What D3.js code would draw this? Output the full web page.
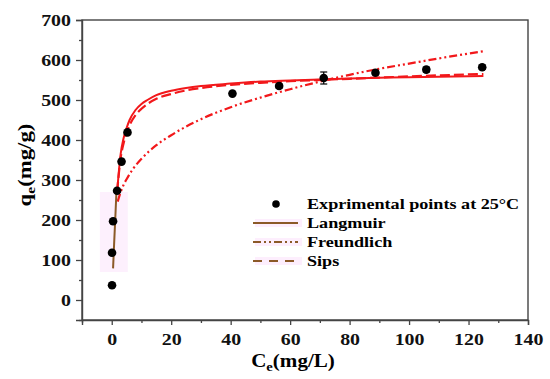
<!DOCTYPE html>
<html>
<head>
<meta charset="utf-8">
<script src="https://cdn.jsdelivr.net/npm/d3@7"></script>
<style>
  body { margin: 0; background: #fff; }
  text { font-family: "Liberation Serif", "Times New Roman", serif; font-weight: bold; }
</style>
</head>
<body>
<div id="chart"></div>
<script>
// experimental points (Ce, qe, error)
var expC   = [0.1, 0.1, 0.45, 1.8, 3.3, 5.3, 40.6, 56.3, 71.3, 88.7, 105.8, 124.6];
var expQ   = [37, 118, 197, 273, 346, 419, 516, 535, 555, 568, 576, 582];
var expErr = [0, 0, 0, 0, 0, 0, 0, 5, 15, 5, 6, 5];

// Langmuir fit (solid)
var langC = [1.8, 2.5, 3, 4, 5, 6, 8, 10, 12, 15, 20, 25, 30, 40, 50, 60, 80, 100, 125];
var langQ = [270, 330, 365, 405, 430, 450, 475, 490, 500, 512, 523, 530, 535, 541, 546, 549, 554, 557, 560];

// Freundlich fit (dash-dot-dot)
var freuC = [2, 3, 4, 5, 7, 10, 15, 20, 30, 40, 50, 60, 70, 80, 90, 100, 110, 125];
var freuQ = [246, 270, 288, 302, 326, 353, 387, 412, 452, 482, 506, 527, 546, 563, 578, 591, 604, 622];

// Sips fit (dashed)
var sipsC = [1.8, 3, 4, 5, 6, 8, 10, 12, 15, 20, 25, 30, 40, 50, 60, 80, 100, 125];
var sipsQ = [270, 355, 392, 418, 437, 462, 478, 490, 503, 515, 524, 530, 538, 543, 547, 553, 559, 565];

// short brown line at low concentration
var lowC = [0.45, 0.8, 1.2, 1.6];
var lowQ = [79, 140, 205, 273];

var xTicks = [0, 20, 40, 60, 80, 100, 120, 140];
var yTicks = [0, 100, 200, 300, 400, 500, 600, 700];
var legendNames = ["Langmuir", "Freundlich", "Sips"];

var w = 550, h = 379;
var pLeft = 82, pRight = 528, pTop = 20, pBottom = 320;
var sx = 1.17; // texts in the picture are a little wide

var x = d3.scaleLinear().domain([-10, 140]).range([pLeft, pRight]);
var y = d3.scaleLinear().domain([-50, 700]).range([pBottom, pTop]);

var svg = d3.select("#chart").append("svg")
  .attr("width", w)
  .attr("height", h);

var axisColor = "#444";
var red = "#f2181b";
var brown = "#8c5a28";

// widen a text around its own x
function widen(sel) {
  sel.each(function() {
    var t = d3.select(this);
    var tx = +t.attr("x") || 0;
    t.attr("transform", "translate(" + tx + ",0) scale(" + sx + ",1) translate(" + (-tx) + ",0)");
  });
}

// pink highlight behind the low concentration line
svg.append("rect")
  .attr("x", x(-4)).attr("y", y(270))
  .attr("width", x(5.4) - x(-4)).attr("height", y(70) - y(270))
  .attr("fill", "#fdf0fd");

// frame
svg.append("rect")
  .attr("x", pLeft).attr("y", pTop)
  .attr("width", pRight - pLeft).attr("height", pBottom - pTop)
  .attr("fill", "none").attr("stroke", axisColor).attr("stroke-width", 1.4);

// x axis
svg.append("g")
  .attr("transform", "translate(0," + pBottom + ")")
  .call(d3.axisBottom(x).tickValues(xTicks).tickSize(5).tickPadding(8));
svg.append("g")
  .attr("transform", "translate(0," + pBottom + ")")
  .call(d3.axisBottom(x).tickValues(d3.range(-10, 141, 20)).tickSize(3).tickFormat(""))
  .select(".domain").remove();

// y axis
svg.append("g")
  .attr("transform", "translate(" + pLeft + ",0)")
  .call(d3.axisLeft(y).tickValues(yTicks).tickSize(6).tickPadding(5));
svg.append("g")
  .attr("transform", "translate(" + pLeft + ",0)")
  .call(d3.axisLeft(y).tickValues(d3.range(-50, 701, 100)).tickSize(3).tickFormat(""))
  .select(".domain").remove();

svg.selectAll(".domain").attr("stroke", axisColor).attr("stroke-width", 1.4);
svg.selectAll(".tick line").attr("stroke", axisColor).attr("stroke-width", 1.3);
svg.selectAll(".tick text")
  .attr("font-family", "Liberation Serif")
  .attr("font-weight", "bold")
  .attr("font-size", "17px")
  .attr("fill", "#111")
  .call(widen);

// axis titles
var xt = svg.append("text")
  .attr("x", 293).attr("y", 367)
  .attr("text-anchor", "middle")
  .attr("font-size", "18px");
xt.append("tspan").text("C");
xt.append("tspan").attr("font-size", "12.5px").attr("dy", 4).text("e");
xt.append("tspan").attr("dy", -4).text("(mg/L)");
widen(xt);

var yt = svg.append("text")
  .attr("transform", "translate(31,165) rotate(-90) scale(1.2,1)")
  .attr("text-anchor", "middle")
  .attr("font-size", "19px");
yt.append("tspan").text("q");
yt.append("tspan").attr("font-size", "13px").attr("dy", 4).text("e");
yt.append("tspan").attr("dy", -4).text("(mg/g)");

// curves
var line = d3.line()
  .x(function(d) { return x(d[0]); })
  .y(function(d) { return y(d[1]); })
  .curve(d3.curveMonotoneX);

svg.append("path")
  .datum(d3.zip(freuC, freuQ))
  .attr("d", line)
  .attr("fill", "none").attr("stroke", red).attr("stroke-width", 2.2)
  .attr("stroke-dasharray", "8,3,2,3,2,3");

svg.append("path")
  .datum(d3.zip(sipsC, sipsQ))
  .attr("d", line)
  .attr("fill", "none").attr("stroke", red).attr("stroke-width", 2.2)
  .attr("stroke-dasharray", "10,4");

svg.append("path")
  .datum(d3.zip(langC, langQ))
  .attr("d", line)
  .attr("fill", "none").attr("stroke", red).attr("stroke-width", 2);

svg.append("path")
  .datum(d3.zip(lowC, lowQ))
  .attr("d", d3.line()
    .x(function(d) { return x(d[0]); })
    .y(function(d) { return y(d[1]); }))
  .attr("fill", "none").attr("stroke", brown).attr("stroke-width", 2);

// error bars
var pts = d3.zip(expC, expQ, expErr);
var eb = svg.selectAll(".err")
  .data(pts.filter(function(d) { return d[2] > 0; }))
  .enter().append("g").attr("class", "err");
eb.append("line")
  .attr("x1", function(d) { return x(d[0]); })
  .attr("x2", function(d) { return x(d[0]); })
  .attr("y1", function(d) { return y(d[1] - d[2]); })
  .attr("y2", function(d) { return y(d[1] + d[2]); })
  .attr("stroke", "#000").attr("stroke-width", 1.2);
[-1, 1].forEach(function(s) {
  eb.append("line")
    .attr("x1", function(d) { return x(d[0]) - 3.5; })
    .attr("x2", function(d) { return x(d[0]) + 3.5; })
    .attr("y1", function(d) { return y(d[1] + s * d[2]); })
    .attr("y2", function(d) { return y(d[1] + s * d[2]); })
    .attr("stroke", "#000").attr("stroke-width", 1.2);
});

// points
svg.selectAll(".pt")
  .data(pts)
  .enter().append("circle")
  .attr("class", "pt")
  .attr("cx", function(d) { return x(d[0]); })
  .attr("cy", function(d) { return y(d[1]); })
  .attr("r", 4.3)
  .attr("fill", "#000");

// legend
var legend = svg.append("g");
legend.append("circle").attr("cx", 276).attr("cy", 204).attr("r", 3.8).attr("fill", "#000");
legend.append("text").attr("x", 307).attr("y", 209)
  .attr("font-size", "15.5px").text("Exprimental points at 25\u00B0C")
  .call(widen);

var dashes = [null, "8,3,2,3,2,3", "9,7"];
legendNames.forEach(function(name, i) {
  var ly = 223 + i * 19;
  legend.append("rect")
    .attr("x", 255).attr("y", ly - 4)
    .attr("width", 47).attr("height", 8)
    .attr("fill", "#fdeefd");
  legend.append("line")
    .attr("x1", 253).attr("x2", 298)
    .attr("y1", ly).attr("y2", ly)
    .attr("stroke", brown).attr("stroke-width", 2)
    .attr("stroke-dasharray", dashes[i]);
  legend.append("text").attr("x", 307).attr("y", ly + 5)
    .attr("font-size", "15.5px").text(name)
    .call(widen);
});
</script>
</body>
</html>
